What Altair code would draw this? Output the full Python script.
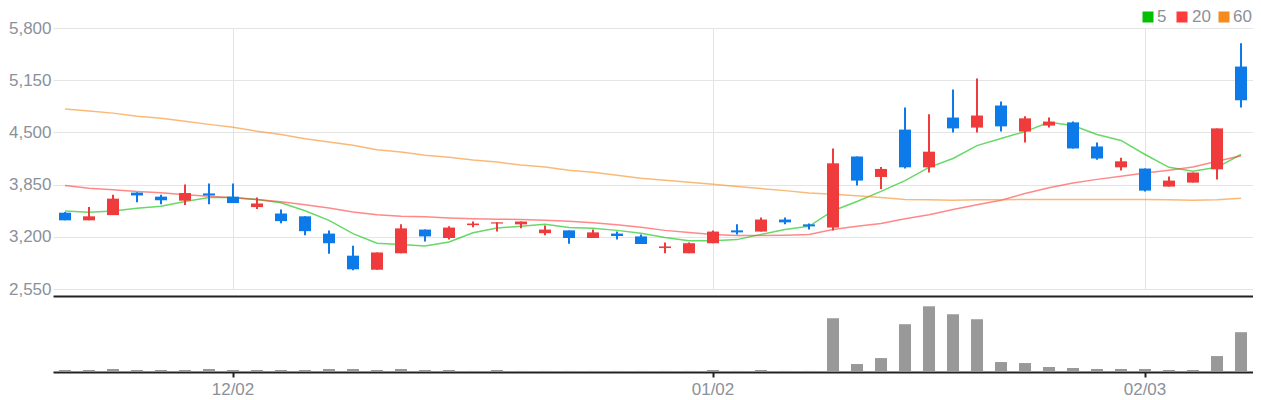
import altair as alt
import pandas as pd

dates = [
    "2024-11-21", "2024-11-22", "2024-11-25", "2024-11-26", "2024-11-27", "2024-11-28", "2024-11-29",
    "2024-12-02", "2024-12-03", "2024-12-04", "2024-12-05", "2024-12-06", "2024-12-09", "2024-12-10",
    "2024-12-11", "2024-12-12", "2024-12-13", "2024-12-16", "2024-12-17", "2024-12-18", "2024-12-19",
    "2024-12-20", "2024-12-23", "2024-12-24", "2024-12-26", "2024-12-27", "2024-12-30", "2025-01-02",
    "2025-01-03", "2025-01-06", "2025-01-07", "2025-01-08", "2025-01-09", "2025-01-10", "2025-01-13",
    "2025-01-14", "2025-01-15", "2025-01-16", "2025-01-17", "2025-01-20", "2025-01-21", "2025-01-22",
    "2025-01-23", "2025-01-24", "2025-01-31", "2025-02-03", "2025-02-04", "2025-02-05", "2025-02-06",
    "2025-02-07",
]
opens = [3500, 3405, 3470, 3750, 3700, 3650, 3740, 3700, 3570, 3490, 3455, 3240, 2965, 2790, 2995,
         3290, 3185, 3345, 3365, 3355, 3245, 3280, 3185, 3240, 3205, 3060, 2995, 3120, 3280, 3265,
         3415, 3355, 3315, 4200, 3945, 4535, 4065, 4685, 4560, 4835, 4510, 4585, 4625, 4325, 4065,
         4050, 3825, 3875, 4040, 5320]
highs = [3510, 3570, 3725, 3755, 3725, 3850, 3865, 3865, 3690, 3540, 3455, 3280, 3090, 3005, 3355,
         3290, 3330, 3390, 3380, 3390, 3340, 3280, 3290, 3265, 3230, 3130, 3130, 3280, 3355, 3440,
         3440, 3365, 4300, 4200, 4070, 4810, 4725, 5035, 5170, 4885, 4700, 4685, 4635, 4375, 4185,
         4050, 3950, 4000, 4550, 5610]
lows = [3405, 3405, 3470, 3630, 3605, 3595, 3605, 3620, 3545, 3370, 3220, 2990, 2785, 2790, 2995,
        3140, 3165, 3320, 3265, 3305, 3220, 3115, 3185, 3165, 3110, 2995, 2995, 3120, 3230, 3265,
        3355, 3290, 3280, 3840, 3795, 4050, 4000, 4500, 4500, 4510, 4375, 4560, 4300, 4160, 4025,
        3765, 3825, 3875, 3915, 4810]
closes = [3405, 3455, 3675, 3715, 3655, 3745, 3715, 3620, 3615, 3395, 3270, 3120, 2795, 3005, 3305,
          3205, 3315, 3365, 3380, 3390, 3290, 3185, 3255, 3210, 3110, 3080, 3120, 3265, 3255, 3415,
          3380, 3330, 4115, 3900, 4045, 4065, 4260, 4550, 4710, 4575, 4675, 4635, 4300, 4175, 4140,
          3775, 3900, 4000, 4550, 4900]
volumes = [60000, 60000, 120000, 60000, 60000, 60000, 120000, 60000, 60000, 60000, 60000, 120000,
           120000, 60000, 120000, 60000, 60000, 4000, 60000, 4000, 4000, 4000, 4000, 4000,
           4000, 4000, 4000, 60000, 4000, 60000, 4000, 4000, 3180000, 420000, 780000, 2820000,
           3900000, 3420000, 3120000, 540000, 480000, 240000, 180000, 120000, 120000, 120000, 60000,
           60000, 900000, 2340000]
ma5 = [3520, 3505, 3520, 3555, 3580, 3640, 3690, 3690, 3665, 3625, 3525, 3405, 3240, 3120, 3105,
       3085, 3135, 3250, 3310, 3330, 3355, 3315, 3305, 3280, 3245, 3190, 3150, 3150, 3165, 3230,
       3290, 3330, 3525, 3640, 3765, 3900, 4065, 4175, 4335, 4425, 4510, 4625, 4585, 4475, 4400,
       4225, 4065, 4015, 4065, 4225]
ma20 = [3840, 3805, 3785, 3765, 3750, 3725, 3705, 3685, 3665, 3635, 3600, 3560, 3510, 3475, 3455,
        3450, 3435, 3425, 3420, 3415, 3405, 3395, 3375, 3350, 3320, 3280, 3255, 3230, 3215, 3215,
        3220, 3230, 3290, 3330, 3365, 3425, 3475, 3540, 3600, 3655, 3740, 3810, 3870, 3915, 3955,
        3995, 4030, 4070, 4140, 4210]
ma60 = [4790, 4765, 4740, 4700, 4675, 4640, 4600, 4565, 4515, 4475, 4420, 4380, 4340, 4285, 4255,
        4215, 4190, 4155, 4130, 4095, 4070, 4030, 4005, 3965, 3930, 3905, 3880, 3855, 3825, 3800,
        3775, 3745, 3730, 3710, 3690, 3665, 3660, 3655, 3660, 3660, 3665, 3665, 3665, 3665, 3665,
        3665, 3660, 3655, 3660, 3680]
ma_names = ["5", "20", "60"]
ma_colors = ["#00c000", "#ff3b3b", "#f58b1f"]
price_ticks = [2550, 3200, 3850, 4500, 5150, 5800]
date_ticks = ["2024-12-02", "2025-01-02", "2025-02-03"]

UP = "#ef3b3b"
DOWN = "#0c7ae9"
VOL = "#999999"
GRID = "#e4e4e4"
DARK = "#222222"
LABEL = "#8b919a"
FONT = "Liberation Sans"
W = 1200

# legend item placement (plot-relative pixels): square centre x, label left x
LEG_SQ_X = [1095, 1129, 1171]
LEG_TX_X = [1104, 1139, 1180]
LEG_Y = -11

df = pd.DataFrame({"d": dates, "o": opens, "h": highs, "l": lows, "c": closes, "v": volumes})
ma_df = pd.concat(
    [pd.DataFrame({"d": dates, "ma": n, "val": vals}) for n, vals in zip(ma_names, [ma5, ma20, ma60])],
    ignore_index=True,
)

xscale = alt.Scale(domain=dates, paddingInner=0, paddingOuter=0)
yscale = alt.Scale(domain=[price_ticks[0], price_ticks[-1]], nice=False, zero=False)

price_xaxis = alt.Axis(values=date_ticks, grid=True, gridColor=GRID, labels=False, ticks=False,
                       domain=True, domainColor=DARK, domainWidth=2, offset=7, title=None,
                       bandPosition=0.5)
price_yaxis = alt.Axis(values=price_ticks, format=",d", grid=True, gridColor=GRID, domain=False,
                       ticks=False, labelPadding=2, title=None)

X = alt.X("d:O", scale=xscale, axis=price_xaxis, sort=dates)

lines = alt.Chart(ma_df).mark_line(strokeWidth=1.5, opacity=0.6).encode(
    x=X,
    y=alt.Y("val:Q", scale=yscale, axis=price_yaxis),
    color=alt.Color("ma:N", scale=alt.Scale(domain=ma_names, range=ma_colors), sort=ma_names,
                    legend=None),
    detail="ma:N",
)

candle_color = alt.condition("datum.c >= datum.o", alt.value(UP), alt.value(DOWN))
wicks = alt.Chart(df).mark_rule(strokeWidth=2).encode(
    x=X,
    y=alt.Y("l:Q", scale=yscale, axis=price_yaxis),
    y2="h:Q",
    color=candle_color,
)
bodies = alt.Chart(df).mark_bar(size=12).encode(
    x=X,
    y=alt.Y("o:Q", scale=yscale, axis=price_yaxis),
    y2="c:Q",
    color=candle_color,
)

legend_layers = []
for name, col, sx, tx in zip(ma_names, ma_colors, LEG_SQ_X, LEG_TX_X):
    one = pd.DataFrame({"name": [name]})
    legend_layers.append(
        alt.Chart(one).mark_square(size=121, color=col, opacity=1).encode(
            x=alt.value(sx), y=alt.value(LEG_Y))
    )
    legend_layers.append(
        alt.Chart(one).mark_text(align="left", baseline="middle", fontSize=17, font=FONT,
                                 color=LABEL).encode(
            x=alt.value(tx), y=alt.value(LEG_Y), text="name:N")
    )

price = alt.layer(lines, wicks, bodies, *legend_layers).properties(width=W, height=261)

label_expr = "substring(datum.value, 5, 7) + '/' + substring(datum.value, 8, 10)"
vol = alt.Chart(df).mark_bar(size=12, color=VOL).encode(
    x=alt.X("d:O", scale=xscale, sort=dates,
            axis=alt.Axis(values=date_ticks, labelExpr=label_expr, grid=False, domainColor=DARK,
                          domainWidth=2, tickColor=DARK, tickWidth=2, tickSize=5, labelPadding=4,
                          labelAngle=0, title=None, bandPosition=0.5, offset=1)),
    y=alt.Y("v:Q", scale=alt.Scale(domain=[0, 4460000], nice=False), axis=None),
).properties(width=W, height=74)

chart = alt.vconcat(price, vol, spacing=0).properties(padding=0).configure_view(
    stroke=None
).configure_axis(
    labelFont=FONT, labelFontSize=17, labelColor=LABEL
)

chart.save("out.html", embed_options={"renderer": "svg", "actions": False})
